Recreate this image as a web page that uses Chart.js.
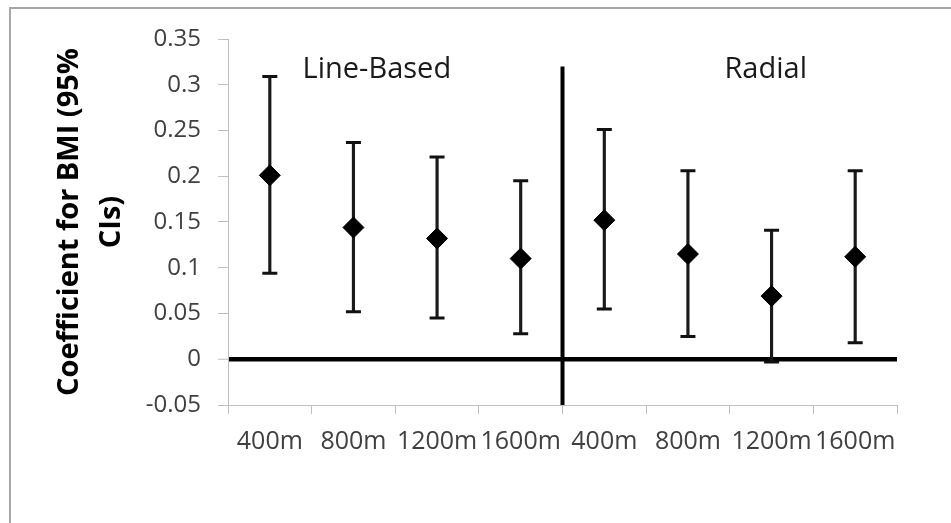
<!DOCTYPE html>
<html lang="en">

<head>
  <meta charset="UTF-8" />
  <title>Coefficient for BMI</title>
  <style>
    body { margin: 0; background: #fff; }
    .frame { position: absolute; left: 9px; top: 7px; width: 1000px; height: 600px;
             border-left: 2px solid #a6a6a6; border-top: 2px solid #a6a6a6; }
    #bmiChart { position: absolute; left: 0; top: 0; }
  </style>
  <script src="https://cdn.jsdelivr.net/npm/chart.js"></script>
</head>

<body>
  <div class="frame"></div>
  <canvas id="bmiChart" width="951" height="523"></canvas>

  <script>
    // buffer sizes, line-based then radial
    const distances = ['400m', '800m', '1200m', '1600m', '400m', '800m', '1200m', '1600m'];
    const coefficient = [0.201, 0.144, 0.132, 0.110, 0.152, 0.115, 0.069, 0.112];
    const ciLower = [0.094, 0.052, 0.045, 0.028, 0.055, 0.025, -0.003, 0.018];
    const ciUpper = [0.309, 0.237, 0.221, 0.195, 0.251, 0.206, 0.141, 0.206];
    const yTicks = [-0.05, 0, 0.05, 0.1, 0.15, 0.2, 0.25, 0.3, 0.35];

    // group labels and divider between the two methods
    const groupNames = ['Line-Based', 'Radial'];
    const groupLabelX = [1.28, 5.93];
    const groupLabelY = 0.316;
    const dividerAt = 3.5;
    const dividerTop = 0.32;

    const axisGray = '#bfbfbf';
    const textGray = '#404040';

    // draws the divider line and the two group names
    const groupPlugin = {
      id: 'groups',
      afterDatasetsDraw(chart) {
        const { ctx, scales: { x, y } } = chart;
        ctx.save();
        ctx.strokeStyle = '#000';
        ctx.lineWidth = 4;
        ctx.beginPath();
        ctx.moveTo(x.getPixelForValue(dividerAt), y.getPixelForValue(yTicks[0]));
        ctx.lineTo(x.getPixelForValue(dividerAt), y.getPixelForValue(dividerTop));
        ctx.stroke();

        ctx.fillStyle = '#1a1a1a';
        ctx.font = '29px "Open Sans"';
        ctx.textAlign = 'center';
        ctx.textBaseline = 'middle';
        groupNames.forEach((name, i) => {
          ctx.fillText(name, x.getPixelForValue(groupLabelX[i]), y.getPixelForValue(groupLabelY));
        });
        ctx.restore();
      }
    };

    const ctx = document.getElementById('bmiChart').getContext('2d');
    const bmiChart = new Chart(ctx, {
      type: 'bar',
      data: {
        labels: distances,
        datasets: [
          {
            type: 'line',
            label: 'Coefficient',
            data: coefficient,
            showLine: false,
            pointStyle: 'rectRot',
            pointRadius: 10.5,
            backgroundColor: '#000',
            borderColor: '#000',
            borderWidth: 1,
            order: 0
          },
          {
            type: 'line',
            label: 'Upper CI',
            data: ciUpper,
            showLine: false,
            pointStyle: 'line',
            pointRadius: 7.5,
            borderColor: '#111',
            borderWidth: 3,
            order: 1
          },
          {
            type: 'line',
            label: 'Lower CI',
            data: ciLower,
            showLine: false,
            pointStyle: 'line',
            pointRadius: 7.5,
            borderColor: '#111',
            borderWidth: 3,
            order: 1
          },
          {
            label: '95% CI',
            data: ciLower.map((lo, i) => [lo, ciUpper[i]]),
            backgroundColor: '#1a1a1a',
            barThickness: 2.5,
            order: 2
          }
        ]
      },
      options: {
        responsive: false,
        animation: false,
        devicePixelRatio: 1,
        layout: { padding: { left: 0, top: 39, right: 54, bottom: 58 } },
        plugins: {
          legend: { display: false },
          tooltip: { enabled: false }
        },
        scales: {
          x: {
            offset: true,
            grid: {
              offset: true,
              drawOnChartArea: false,
              tickLength: 9,
              tickColor: axisGray
            },
            border: { color: axisGray, width: 1 },
            ticks: {
              autoSkip: false,
              maxRotation: 0,
              minRotation: 0,
              padding: 13,
              color: textGray,
              font: { family: 'Open Sans', size: 25 }
            },
            afterFit: (scale) => { scale.height = 60; }
          },
          y: {
            min: yTicks[0],
            max: yTicks[yTicks.length - 1],
            afterBuildTicks: (scale) => { scale.ticks = yTicks.map(v => ({ value: v })); },
            grid: {
              // only the zero line runs across the plot
              color: (c) => c.tick && c.tick.value === 0 ? '#000' : 'rgba(0,0,0,0)',
              lineWidth: (c) => c.tick && c.tick.value === 0 ? 4.5 : 1,
              tickColor: axisGray,
              tickWidth: 1,
              tickLength: 10
            },
            border: { color: axisGray, width: 1 },
            ticks: {
              padding: 17,
              color: textGray,
              font: { family: 'Open Sans', size: 24 },
              callback: (v) => String(v)
            },
            title: {
              display: true,
              text: ['Coefficient for BMI (95%', 'CIs)'],
              color: '#000',
              font: { family: 'Open Sans', size: 29, weight: 'bold', lineHeight: 1.45 },
              padding: { top: 49, bottom: 0 }
            },
            afterFit: (scale) => { scale.width = 228; }
          }
        }
      },
      plugins: [groupPlugin]
    });
  </script>
</body>

</html>
